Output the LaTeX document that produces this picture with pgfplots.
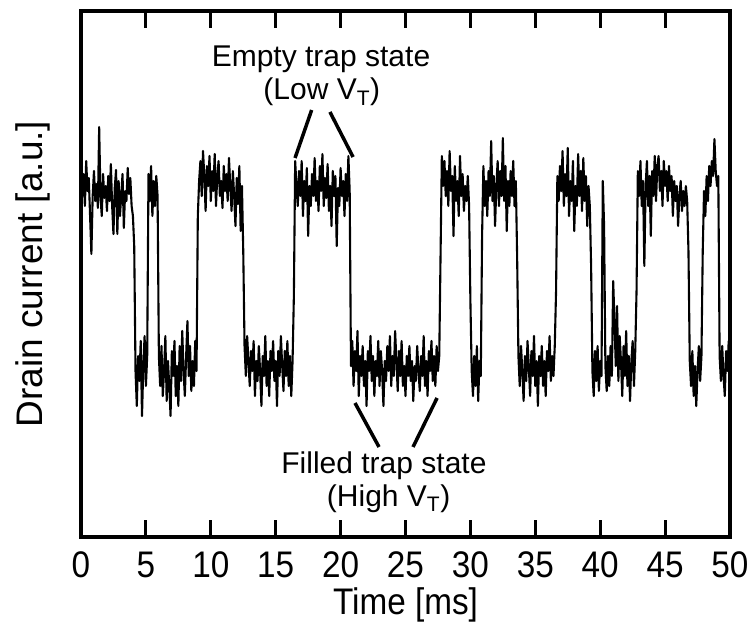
\documentclass[border=0pt]{standalone}
\usepackage{fontspec}
\setmainfont{Liberation Sans}
\newfontfamily\narrowfont{Liberation Sans}[FakeStretch=0.9]
\usepackage{pgfplots}
\usepackage{pgfplotstable}
\pgfplotsset{compat=1.18}
\pgfplotstableread{
t y
0.0 380
0.1 350
0.2 372
0.3 340
0.4 385
0.5 355
0.6 368
0.7 330
0.8 292
0.9 350
1.0 375
1.1 345
1.2 362
1.3 338
1.4 419
1.5 350
1.6 330
1.7 372
1.8 348
1.9 360
2.0 335
2.1 370
2.2 345
2.3 382
2.4 340
2.5 312
2.6 358
2.7 376
2.8 312
2.9 365
3.0 330
3.1 350
3.2 372
3.3 318
3.4 355
3.5 345
3.6 378
3.7 352
3.8 368
3.9 340
4.0 330
4.1 300
4.2 175
4.3 140
4.4 190
4.5 165
4.6 205
4.7 130
4.8 180
4.9 210
5.0 160
5.1 190
5.2 372
5.3 345
5.4 380
5.5 330
5.6 365
5.7 340
5.8 370
5.9 350
6.0 190
6.1 160
6.2 200
6.3 150
6.4 175
6.5 210
6.6 145
6.7 185
6.8 160
6.9 130
7.0 195
7.1 170
7.2 205
7.3 150
7.4 180
7.5 140
7.6 200
7.7 165
7.8 215
7.9 175
8.0 150
8.1 190
8.2 225
8.3 170
8.4 200
8.5 155
8.6 185
8.7 160
8.8 205
8.9 175
9.0 330
9.1 365
9.2 385
9.3 350
9.4 395
9.5 370
9.6 335
9.7 380
9.8 360
9.9 390
10.0 345
10.1 375
10.2 355
10.3 392
10.4 340
10.5 370
10.6 385
10.7 350
10.8 365
10.9 338
11.0 380
11.1 355
11.2 372
11.3 345
11.4 388
11.5 360
11.6 335
11.7 375
11.8 350
11.9 320
12.0 368
12.1 342
12.2 380
12.3 315
12.4 360
12.5 295
12.6 200
12.7 170
12.8 210
12.9 185
13.0 160
13.1 195
13.2 175
13.3 205
13.4 150
13.5 185
13.6 165
13.7 200
13.8 175
13.9 140
14.0 190
14.1 170
14.2 210
14.3 160
14.4 185
14.5 150
14.6 195
14.7 175
14.8 205
14.9 165
15.0 185
15.1 140
15.2 195
15.3 170
15.4 210
15.5 180
15.6 155
15.7 195
15.8 170
15.9 205
16.0 160
16.1 190
16.2 150
16.3 185
16.4 250
16.5 385
16.6 360
16.7 340
16.8 375
16.9 350
17.0 385
17.1 330
17.2 365
17.3 345
17.4 378
17.5 310
17.6 360
17.7 340
17.8 372
17.9 350
18.0 388
18.1 345
18.2 365
18.3 335
18.4 380
18.5 355
18.6 392
18.7 340
18.8 368
18.9 348
19.0 382
19.1 335
19.2 360
19.3 320
19.4 375
19.5 350
19.6 370
19.7 300
19.8 358
19.9 340
20.0 378
20.1 350
20.2 365
20.3 330
20.4 372
20.5 345
20.6 390
20.7 355
20.8 180
20.9 205
21.0 160
21.1 195
21.2 175
21.3 215
21.4 150
21.5 190
21.6 170
21.7 200
21.8 160
21.9 185
22.0 140
22.1 195
22.2 175
22.3 210
22.4 165
22.5 190
22.6 150
22.7 185
22.8 170
22.9 205
23.0 160
23.1 195
23.2 175
23.3 140
23.4 185
23.5 165
23.6 200
23.7 175
23.8 210
23.9 160
24.0 190
24.1 170
24.2 215
24.3 185
24.4 155
24.5 195
24.6 170
24.7 205
24.8 160
24.9 180
25.0 150
25.1 190
25.2 170
25.3 200
25.4 165
25.5 185
25.6 145
25.7 180
25.8 165
25.9 200
26.0 175
26.1 155
26.2 190
26.3 170
26.4 210
26.5 160
26.6 185
26.7 150
26.8 195
26.9 175
27.0 205
27.1 165
27.2 190
27.3 160
27.4 200
27.5 175
27.6 190
27.7 290
27.8 390
27.9 360
28.0 385
28.1 350
28.2 375
28.3 340
28.4 395
28.5 355
28.6 370
28.7 310
28.8 380
28.9 345
29.0 365
29.1 330
29.2 390
29.3 350
29.4 372
29.5 335
29.6 360
29.7 345
29.8 370
29.9 340
30.0 245
30.1 175
30.2 150
30.3 190
30.4 160
30.5 200
30.6 145
30.7 185
30.8 170
30.9 310
31.0 380
31.1 340
31.2 365
31.3 330
31.4 375
31.5 350
31.6 405
31.7 345
31.8 370
31.9 320
32.0 360
32.1 385
32.2 340
32.3 375
32.4 350
32.5 408
32.6 345
32.7 380
32.8 315
32.9 365
33.0 340
33.1 375
33.2 350
33.3 385
33.4 340
33.5 365
33.6 290
33.7 190
33.8 160
33.9 200
34.0 175
34.1 145
34.2 190
34.3 165
34.4 205
34.5 180
34.6 150
34.7 195
34.8 170
34.9 210
35.0 160
35.1 185
35.2 140
35.3 190
35.4 170
35.5 200
35.6 160
35.7 185
35.8 150
35.9 195
36.0 175
36.1 210
36.2 165
36.3 190
36.4 170
36.5 200
36.6 255
36.7 370
36.8 345
36.9 380
37.0 355
37.1 395
37.2 340
37.3 372
37.4 350
37.5 398
37.6 330
37.7 365
37.8 345
37.9 385
38.0 315
38.1 360
38.2 340
38.3 392
38.4 350
38.5 375
38.6 335
38.7 388
38.8 345
38.9 370
39.0 320
39.1 360
39.2 340
39.3 280
39.4 175
39.5 150
39.6 195
39.7 165
39.8 200
39.9 155
40.0 185
40.1 170
40.2 365
40.3 320
40.4 180
40.5 155
40.6 190
40.7 160
40.8 200
40.9 170
41.0 265
41.1 225
41.2 180
41.3 240
41.4 165
41.5 210
41.6 185
41.7 150
41.8 200
41.9 170
42.0 215
42.1 160
42.2 190
42.3 145
42.4 185
42.5 205
42.6 160
42.7 195
42.8 255
42.9 375
43.0 350
43.1 385
43.2 340
43.3 365
43.4 280
43.5 360
43.6 385
43.7 340
43.8 370
43.9 310
44.0 375
44.1 350
44.2 390
44.3 345
44.4 380
44.5 390
44.6 355
44.7 375
44.8 340
44.9 385
45.0 360
45.1 375
45.2 345
45.3 380
45.4 355
45.5 370
45.6 330
45.7 365
45.8 345
45.9 360
46.0 320
46.1 350
46.2 365
46.3 335
46.4 355
46.5 340
46.6 360
46.7 345
46.8 295
46.9 185
47.0 160
47.1 195
47.2 150
47.3 180
47.4 140
47.5 175
47.6 200
47.7 165
47.8 190
47.9 295
48.0 355
48.1 330
48.2 370
48.3 345
48.4 380
48.5 360
48.6 385
48.7 370
48.8 407
48.9 375
49.0 360
49.1 370
49.2 190
49.3 165
49.4 200
49.5 170
49.6 150
49.7 195
49.8 175
49.9 205
50.0 180
}\trace
\begin{document}
\begin{tikzpicture}
\useasboundingbox (-81pt,-93pt) rectangle (668pt,537pt);
\begin{axis}[
  at={(0pt,0pt)}, anchor=south west,
  scale only axis, width=649pt, height=526pt,
  xmin=0, xmax=50, ymin=9, ymax=535,
  clip=false,
  xtick={0,5,...,50}, ytick=\empty,
  xtick pos=both, xticklabel pos=lower,
  tick align=inside, major tick length=17pt,
  every tick/.style={black, line width=3pt},
  axis line style={line width=3.3pt},
  /pgf/number format/assume math mode=true,
  xticklabel style={font=\narrowfont\fontsize{37}{44}\selectfont, anchor=base, yshift=-40pt, inner sep=0pt},
  xlabel={Time [ms]},
  xlabel style={font=\narrowfont\fontsize{37}{44}\selectfont, at={(axis description cs:0.5,-0.1464)}, anchor=base},
  ylabel={Drain current [a.u.]},
  ylabel style={font=\fontsize{37}{44}\selectfont, at={(axis description cs:-0.074,0.5)}, anchor=center},
]
\addplot[black, line width=2.1pt, line join=round] table[x=t, y=y] {\trace};
\draw[line width=3.5pt] (axis cs:17.77,436) -- (axis cs:16.49,388);
\draw[line width=3.5pt] (axis cs:19.18,434) -- (axis cs:20.96,389);
\draw[line width=3.5pt] (axis cs:21.11,143) -- (axis cs:22.96,99);
\draw[line width=3.5pt] (axis cs:27.43,148) -- (axis cs:25.58,99);
\node[anchor=base, font=\fontsize{30}{36}\selectfont, inner sep=0pt] at (axis cs:18.49,479) {Empty trap state};
\node[anchor=base, font=\fontsize{30}{36}\selectfont, inner sep=0pt] at (axis cs:18.55,446) {(Low V\textsubscript{T})};
\node[anchor=base, font=\fontsize{30}{36}\selectfont, inner sep=0pt] at (axis cs:23.34,73) {Filled trap state};
\node[anchor=base, font=\fontsize{30}{36}\selectfont, inner sep=0pt] at (axis cs:23.70,40) {(High V\textsubscript{T})};
\end{axis}
\end{tikzpicture}
\end{document}
